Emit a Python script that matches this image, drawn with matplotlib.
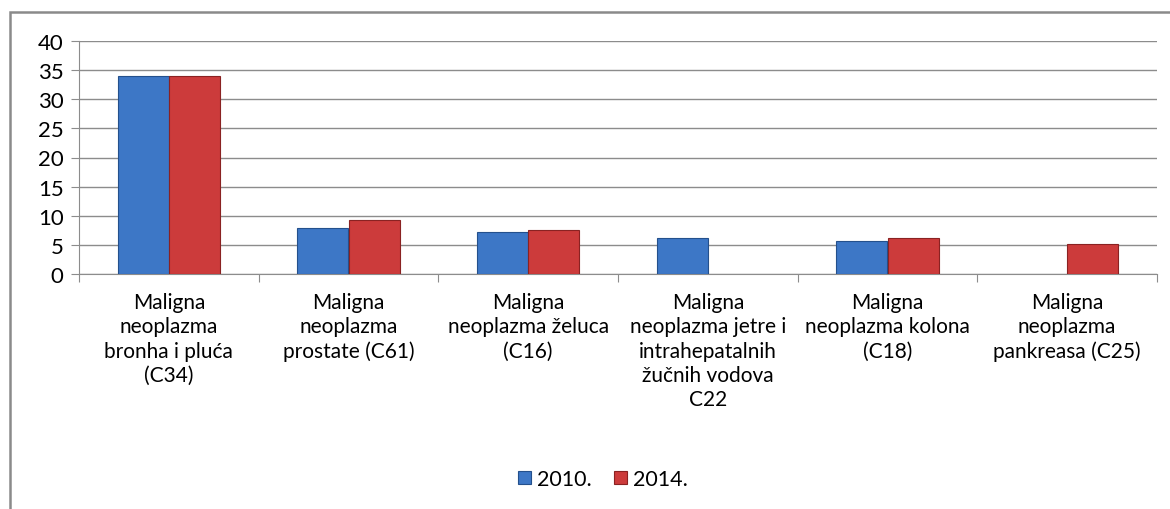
import matplotlib.pyplot as plt
import numpy as np
from matplotlib.patches import Rectangle

plt.rcParams['font.family'] = ['Lato', 'DejaVu Sans']

categories = ['Maligna\nneoplazma\nbronha i pluća\n(C34)',
              'Maligna\nneoplazma\nprostate (C61)',
              'Maligna\nneoplazma želuca\n(C16)',
              'Maligna\nneoplazma jetre i\nintrahepatalnih\nžučnih vodova\nC22',
              'Maligna\nneoplazma kolona\n(C18)',
              'Maligna\nneoplazma\npankreasa (C25)']
vals_2010 = [34.0, 7.9, 7.2, 6.1, 5.6, np.nan]
vals_2014 = [34.0, 9.2, 7.6, np.nan, 6.1, 5.1]
series_names = ['2010.', '2014.']
yticks = [0, 5, 10, 15, 20, 25, 30, 35, 40]

blue, blue_edge = '#3D77C6', '#24508C'
red, red_edge = '#CC3B3B', '#8A2222'
grid_col = '#8c8c8c'

fig = plt.figure(figsize=(11.7, 5.1), dpi=100)
# outer chart border (only top and left visible in the crop)
fig.patches.append(Rectangle((10/1170, -0.2), 1.2, 1.2 - 13/510, transform=fig.transFigure,
                             fill=False, edgecolor='#8a8a8a', linewidth=1.8))
ax = fig.add_axes([79/1170, 1 - 275/510, (1157 - 79)/1170, (275 - 42)/510])

x = np.arange(len(categories))
w = 0.285
ax.bar(x - w/2, vals_2010, w, color=blue, edgecolor=blue_edge, linewidth=0.8, label=series_names[0], zorder=3)
ax.bar(x + w/2, vals_2014, w, color=red, edgecolor=red_edge, linewidth=0.8, label=series_names[1], zorder=3)

ax.set_xlim(-0.5, len(categories) - 0.5)
ax.set_ylim(0, 40)
ax.set_yticks(yticks)
ax.yaxis.grid(True, color=grid_col, linewidth=1.0, zorder=0)
ax.set_axisbelow(True)

for s in ['top', 'right']:
    ax.spines[s].set_visible(False)
ax.spines['left'].set_color(grid_col)
ax.spines['bottom'].set_color(grid_col)

ax.set_xticks(np.arange(len(categories) + 1) - 0.5)
ax.set_xticklabels([])
ax.set_xticks(x, minor=True)
ax.set_xticklabels(categories, minor=True, fontsize=15, linespacing=1.27, va='top')
ax.tick_params(axis='x', which='major', length=6, color=grid_col)
ax.tick_params(axis='x', which='minor', length=0, pad=13)
ax.tick_params(axis='y', length=6, color=grid_col, labelsize=16, pad=5)

leg = fig.legend(loc='center', bbox_to_anchor=(603/1170, 1 - 480/510), ncol=2, frameon=False,
                 fontsize=15.5, handlelength=0.6, handleheight=0.6, handletextpad=0.3, columnspacing=1.0)

fig.savefig('out.png', dpi=100)
